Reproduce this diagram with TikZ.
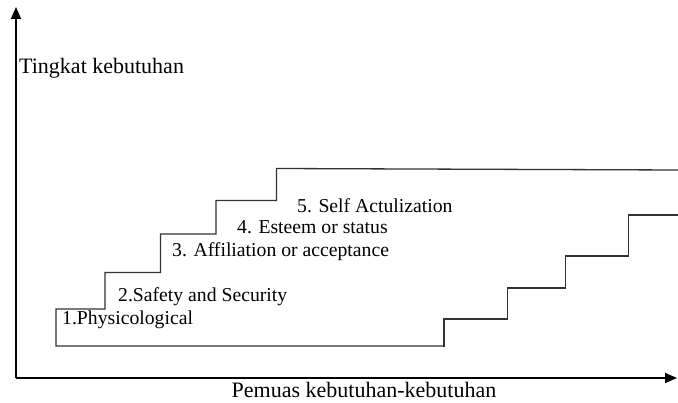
\documentclass[tikz,border=0pt]{standalone}
\usepackage{fontspec}
\setmainfont{Liberation Serif}
\usetikzlibrary{arrows.meta}
\begin{document}
\begin{tikzpicture}[x=1pt,y=-1pt,
  axis/.style={line width=1.8pt,-{Triangle[length=12pt,width=10pt]}},
  stair/.style={line width=1.3pt,draw=black!80,line join=miter},
  steplabel/.style={anchor=base west,inner sep=0pt,font=\fontsize{19.7}{22}\selectfont},
  axislabel/.style={inner sep=0pt,font=\fontsize{22}{24}\selectfont}]
\useasboundingbox (0,0) rectangle (678,403);
% axes
\coordinate (o) at (16,378);
\coordinate (ytip) at (16,7);
\coordinate (xtip) at (677,378);
\draw[axis] (o) -- (ytip);
\draw[axis] (o) -- (xtip);
\node[axislabel,anchor=base west] (ylab) at (19,74) {Tingkat kebutuhan};
\node[axislabel,anchor=base] (xlab) at (364,398) {Pemuas kebutuhan-kebutuhan};
% upper staircase
\draw[stair] (443,346) -- (56,346) -- (56,309) -- (105,309) -- (105,272.5)
  -- (160.5,272.5) -- (160.5,234) -- (216,234) -- (216,200.5) -- (276.5,200.5)
  -- (276.5,168.5) -- (678,170);
% lower staircase
\draw[stair] (443,346) -- (444,346) -- (444,319) -- (507.5,319) -- (507.5,288)
  -- (565.5,288) -- (565.5,256) -- (628.5,256) -- (628.5,215) -- (678,215);
% labels
\node[steplabel] (s1) at (62,325) {1.Physicological};
\node[steplabel] (s2) at (118,301.5) {2.Safety and Security};
\node[steplabel] (s3) at (172,256.5) {3. Affiliation or acceptance};
\node[steplabel] (s4) at (237,234) {4. Esteem or status};
\node[steplabel] (s5) at (297,212.5) {5. Self Actulization};
\end{tikzpicture}
\end{document}
